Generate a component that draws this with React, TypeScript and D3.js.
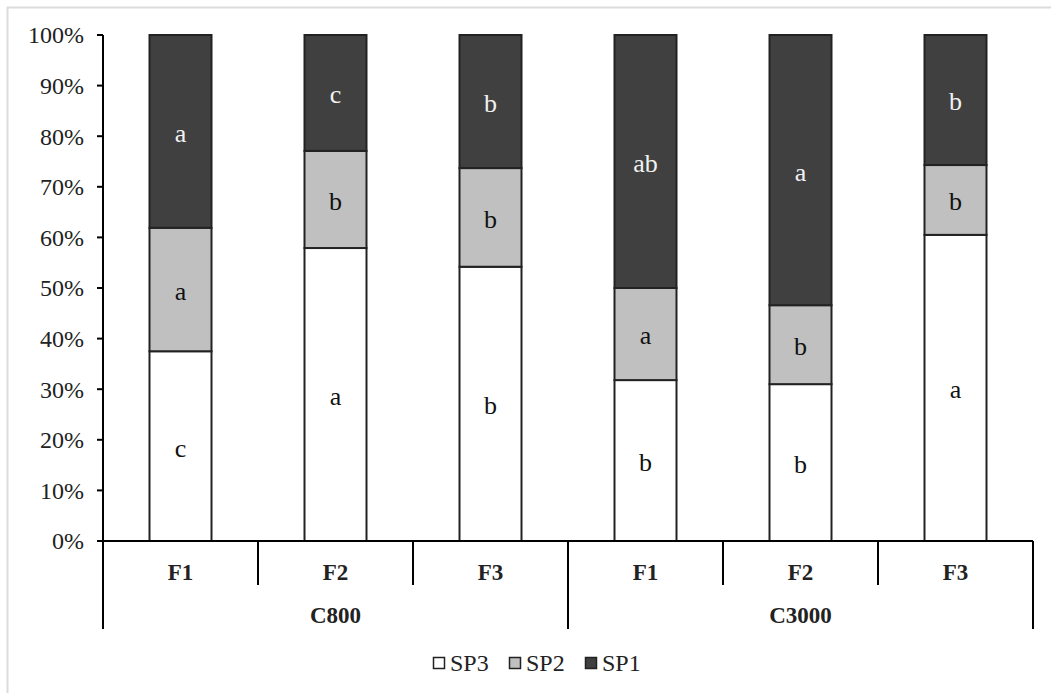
import * as d3 from "d3";

const groups = ["C800", "C3000"];
const factors = ["F1", "F2", "F3"];
const series = ["SP3", "SP2", "SP1"];

const sp3 = [37.5, 57.9, 54.2, 31.8, 31.0, 60.5];
const sp2 = [24.4, 19.2, 19.5, 18.2, 15.6, 13.8];
const sp1 = [38.1, 22.9, 26.3, 50.0, 53.4, 25.7];

const sp3Letters = ["c", "a", "b", "b", "b", "a"];
const sp2Letters = ["a", "b", "b", "a", "b", "b"];
const sp1Letters = ["a", "c", "b", "ab", "a", "b"];

const yTicks = [0, 10, 20, 30, 40, 50, 60, 70, 80, 90, 100];

const fills: Record<string, string> = { SP3: "#ffffff", SP2: "#c0c0c0", SP1: "#404040" };
const textFills: Record<string, string> = { SP3: "#111", SP2: "#111", SP1: "#f2f2f2" };

const App = () => {
  const width = 1051;
  const height = 693;
  const left = 103;
  const right = 1033;
  const top = 35;
  const bottom = 541;
  const font = "'Liberation Serif', 'Times New Roman', serif";

  const cats = groups.flatMap((g) => factors.map((f) => `${g}-${f}`));
  const x = d3.scaleBand().domain(cats).range([left, right]).paddingInner(0.6).paddingOuter(0.3);
  const bandStep = x.step();
  const y = d3.scaleLinear().domain([0, 100]).range([bottom, top]);

  const rows = cats.map((c, i) => ({ key: c, SP3: sp3[i], SP2: sp2[i], SP1: sp1[i] }));
  const stack = d3.stack<any>().keys(series)(rows);
  const letters: Record<string, string[]> = { SP3: sp3Letters, SP2: sp2Letters, SP1: sp1Letters };

  const catEdge = (i: number) => left + i * bandStep;

  return (
    <svg
      width={width}
      height={height}
      style={{ position: "absolute", left: 0, top: 0, background: "#fff" }}
      fontFamily={font}
    >
      {/* faint frame */}
      <line x1={7} x2={width} y1={7.5} y2={7.5} stroke="#dcdcdc" strokeWidth={2} />
      <line x1={7.5} x2={7.5} y1={7} y2={height} stroke="#dcdcdc" strokeWidth={2} />

      {/* y axis */}
      <line x1={left} x2={left} y1={top} y2={bottom} stroke="#000" strokeWidth={2} />
      {yTicks.map((t) => (
        <g key={t}>
          <line x1={left - 6} x2={left} y1={y(t)} y2={y(t)} stroke="#000" strokeWidth={2} />
          <text x={84} y={y(t)} dy="0.35em" textAnchor="end" fontSize={24} fill="#222">
            {t}%
          </text>
        </g>
      ))}

      {/* bars */}
      {stack.map((layer) =>
        layer.map((d, i) => {
          const x0 = x(cats[i]) ?? 0;
          const y0 = y(d[1]);
          const h = y(d[0]) - y(d[1]);
          return (
            <g key={`${layer.key}-${i}`}>
              <rect
                x={x0}
                y={y0}
                width={x.bandwidth()}
                height={h}
                fill={fills[layer.key]}
                stroke="#222"
                strokeWidth={2}
              />
              <text
                x={x0 + x.bandwidth() / 2}
                y={y0 + h / 2}
                dy="0.4em"
                textAnchor="middle"
                fontSize={26}
                fill={textFills[layer.key]}
              >
                {letters[layer.key][i]}
              </text>
            </g>
          );
        })
      )}

      {/* x axis with grouped categories */}
      <line x1={left - 6} x2={right} y1={bottom} y2={bottom} stroke="#000" strokeWidth={2} />
      {cats.map((c, i) => (
        <g key={c}>
          {i > 0 && i % 3 !== 0 && (
            <line x1={catEdge(i)} x2={catEdge(i)} y1={bottom} y2={585} stroke="#000" strokeWidth={2} />
          )}
          <text
            x={catEdge(i) + bandStep / 2}
            y={572}
            dy="0.35em"
            textAnchor="middle"
            fontSize={23}
            fontWeight="bold"
            fill="#222"
          >
            {factors[i % 3]}
          </text>
        </g>
      ))}
      {[0, 3, 6].map((i) => (
        <line key={i} x1={catEdge(i)} x2={catEdge(i)} y1={bottom} y2={629} stroke="#000" strokeWidth={2} />
      ))}
      {groups.map((g, gi) => (
        <text
          key={g}
          x={catEdge(gi * 3) + (bandStep * 3) / 2}
          y={615}
          dy="0.35em"
          textAnchor="middle"
          fontSize={23}
          fontWeight="bold"
          fill="#222"
        >
          {g}
        </text>
      ))}

      {/* legend */}
      {series.map((s, i) => {
        const lx = 433 + i * 76;
        return (
          <g key={s} transform={`translate(${lx}, 663)`}>
            <rect x={0.5} y={-5.5} width={11} height={11} fill={fills[s]} stroke="#222" strokeWidth={1.5} />
            <text x={17} y={0} dy="0.35em" fontSize={24} fill="#222">
              {s}
            </text>
          </g>
        );
      })}
    </svg>
  );
};

export default App;
